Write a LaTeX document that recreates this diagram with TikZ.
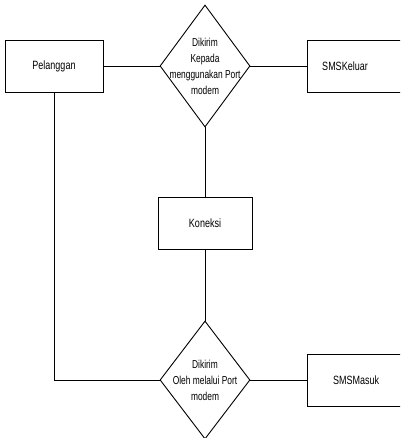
\documentclass[tikz,border=0pt]{standalone}
\usepackage{fontspec}
\setmainfont{Liberation Sans}[FakeStretch=0.75]
\newfontfamily\relfont{Liberation Sans}[FakeStretch=0.73]
\usetikzlibrary{shapes.geometric}
\begin{document}
\begin{tikzpicture}[x=1pt,y=-1pt,
  line width=0.9pt,
  entity/.style={draw, rectangle, minimum width=98pt, minimum height=52pt, inner sep=0pt,
    font=\fontsize{12}{14}\selectfont},
  relation/.style={draw, diamond, minimum width=90pt, minimum height=122pt, inner sep=0pt},
  reltext/.style={align=center, font=\relfont\fontsize{11.5}{16}\selectfont, inner sep=0pt},
  boxtext/.style={font=\fontsize{12}{14}\selectfont, inner sep=0pt}]
  \clip (0,0) rectangle (400,438);
  % entities
  \node[entity] (pel) at (54,66) {Pelanggan};
  \node[entity] (kel) at (356,66) {};
  \node[boxtext] (keltxt) at (345,66) {SMSKeluar};
  \node[entity, minimum width=94pt] (kon) at (205,223) {Koneksi};
  \node[entity] (mas) at (356,380) {SMSMasuk};
  % relationships
  \node[relation] (kirim) at (205,66) {};
  \node[reltext] (kirimtxt) at (205,66) {Dikirim\\Kepada\\menggunakan Port\\modem};
  \node[relation, minimum height=118pt] (terima) at (205,380) {};
  \node[reltext] (terimatxt) at (205,380) {Dikirim\\Oleh melalui Port\\modem};
  % connectors
  \draw (pel.east) -- (kirim.west);
  \draw (kirim.east) -- (kel.west);
  \draw (kirim.south) -- (kon.north);
  \draw (kon.south) -- (terima.north);
  \draw (pel.south) |- (terima.west);
  \draw (terima.east) -- (mas.west);
\end{tikzpicture}
\end{document}
